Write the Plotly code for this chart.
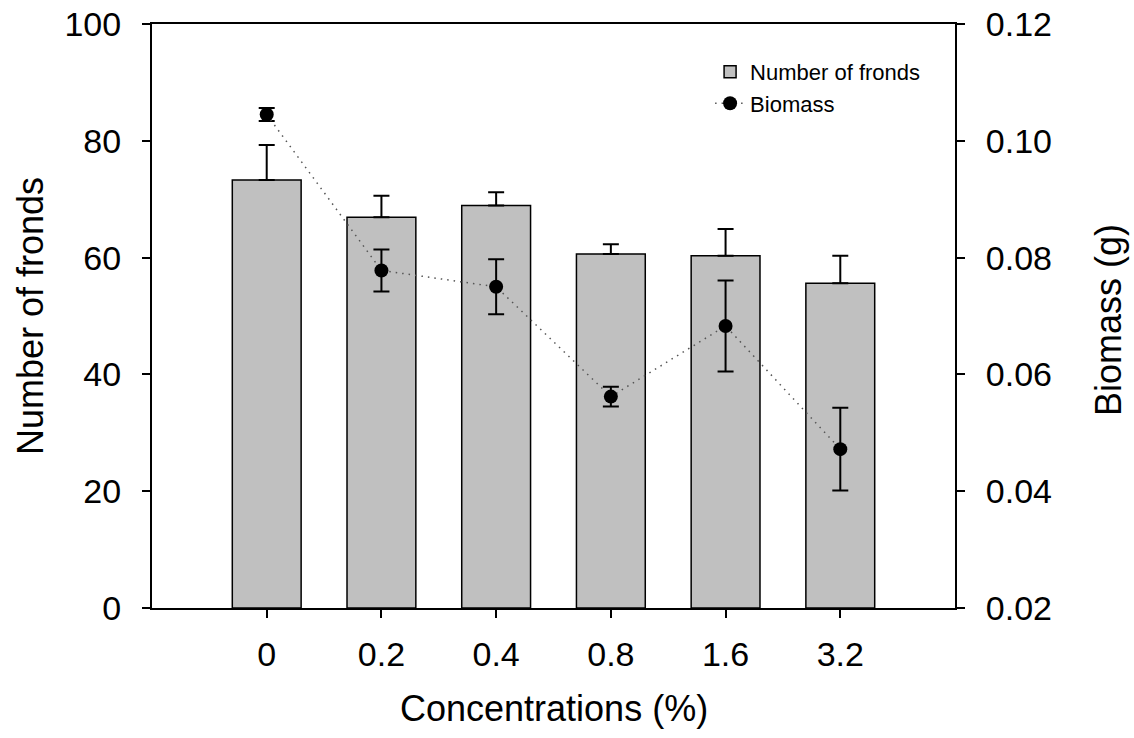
import plotly.graph_objects as go

categories = ["0", "0.2", "0.4", "0.8", "1.6", "3.2"]
fronds = [73.3, 66.9, 68.9, 60.6, 60.3, 55.6]
fronds_err = [6.0, 3.7, 2.3, 1.7, 4.6, 4.7]
biomass = [0.1045, 0.0778, 0.0750, 0.0562, 0.0683, 0.0472]
biomass_err = [0.0011, 0.0036, 0.0047, 0.0017, 0.0078, 0.0071]

FONT = "Arial, Liberation Sans, sans-serif"
xs = list(range(len(categories)))

fig = go.Figure()
fig.add_trace(go.Bar(
    x=xs, y=fronds, name="Number of fronds", width=0.6,
    marker=dict(color="#C0C0C0", line=dict(color="#000000", width=1.5)),
    error_y=dict(type="data", symmetric=False, array=fronds_err,
                 arrayminus=[0] * len(fronds_err), color="#000000",
                 thickness=2, width=8),
))
fig.add_trace(go.Scatter(
    x=xs, y=biomass, name="Biomass", yaxis="y2", mode="lines+markers",
    line=dict(color="#555555", width=1.5, dash="1.5px,5px"),
    marker=dict(color="#000000", size=14),
    error_y=dict(type="data", array=biomass_err, color="#000000",
                 thickness=2, width=8),
))

fig.update_layout(
    width=1134, height=738,
    margin=dict(l=152, r=179, t=24, b=130, autoexpand=False),
    paper_bgcolor="white", plot_bgcolor="white",
    font=dict(family=FONT, size=34, color="#000000"),
    showlegend=True,
    legend=dict(x=0.695, y=0.954, xanchor="left", yanchor="top",
                font=dict(size=22, family=FONT), bgcolor="rgba(0,0,0,0)",
                traceorder="normal"),
    xaxis=dict(range=[-1, 6], tickvals=xs, ticktext=categories,
               showline=True, linecolor="#000000", linewidth=2, mirror=True,
               ticks="outside", ticklen=8, tickwidth=1.5, tickcolor="#000000",
               showgrid=False, zeroline=False, ticklabelstandoff=7,
               automargin=False),
    yaxis=dict(range=[0, 100], dtick=20, showline=True, linecolor="#000000",
               linewidth=2, ticks="outside", ticklen=8, tickwidth=1.5,
               tickcolor="#000000", showgrid=False, zeroline=False,
               ticklabelstandoff=14, automargin=False),
    yaxis2=dict(range=[0.02, 0.12], dtick=0.02, tickformat=".2f",
                overlaying="y", side="right", showline=True,
                linecolor="#000000", linewidth=2, ticks="outside", ticklen=8,
                tickwidth=1.5, tickcolor="#000000", showgrid=False,
                zeroline=False, ticklabelstandoff=14, automargin=False),
    annotations=[
        dict(text="Concentrations (%)", xref="paper", yref="paper", x=0.5, y=0,
             xanchor="center", yanchor="middle", yshift=-100, showarrow=False,
             font=dict(size=36, family=FONT)),
        dict(text="Number of fronds", xref="paper", yref="paper", x=0, y=0.5,
             xanchor="center", yanchor="middle", xshift=-122, textangle=-90,
             showarrow=False, font=dict(size=36, family=FONT)),
        dict(text="Biomass (g)", xref="paper", yref="paper", x=1, y=0.5,
             xanchor="center", yanchor="middle", xshift=153, yshift=-4,
             textangle=-90, showarrow=False, font=dict(size=36, family=FONT)),
    ],
)

fig.write_html("out.html")
